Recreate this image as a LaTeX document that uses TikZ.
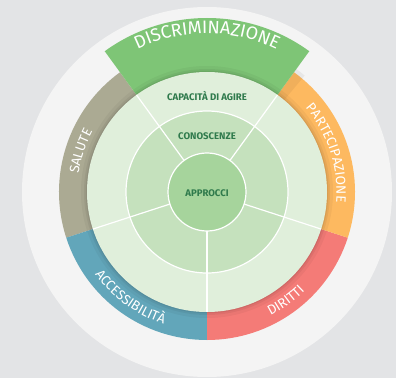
\documentclass[tikz,border=0pt]{standalone}
\usepackage{fontspec}
\setmainfont{Fira Sans}
\usetikzlibrary{decorations.text}
\definecolor{bgc}{HTML}{E3E4E6}
\definecolor{outerc}{HTML}{F4F4F4}
\definecolor{discc}{HTML}{7EC576}
\definecolor{salc}{HTML}{ABAA93}
\definecolor{accc}{HTML}{62A6BA}
\definecolor{dirc}{HTML}{F47B77}
\definecolor{partc}{HTML}{FDB960}
\definecolor{ringc}{HTML}{E0EFDB}
\definecolor{midc}{HTML}{C5E1BD}
\definecolor{corec}{HTML}{A6D49C}
\definecolor{txtc}{HTML}{2F7A4C}
\tikzset{
  inlabel/.style={text=txtc, font=\bfseries\fontsize{9.6}{10}\selectfont, inner sep=0pt},
  divider/.style={white, line width=1.2pt},
}
\newcommand{\bandfont}{\color{white}\fontsize{13.5}{14}\selectfont}
\begin{document}
\begin{tikzpicture}[x=1pt,y=1pt]
\useasboundingbox (0,0) rectangle (396,378);
\fill[bgc] (0,0) rectangle (396,378);
\coordinate (O) at (207,186);
\fill[outerc] (O) circle[radius=185];
% outer band segments
\fill[salc] (O) -- ([shift={(126:148)}]O) arc[start angle=126,end angle=198,radius=148] -- cycle;
\fill[accc] (O) -- ([shift={(198:148)}]O) arc[start angle=198,end angle=270,radius=148] -- cycle;
\fill[dirc] (O) -- ([shift={(270:148)}]O) arc[start angle=270,end angle=342,radius=148] -- cycle;
\fill[partc] (O) -- ([shift={(-18:148)}]O) arc[start angle=-18,end angle=54,radius=148] -- cycle;
\fill[black,opacity=0.05] (O) -- ([shift={(54:120)}]O) -- ([shift={(54:152)}]O) arc[start angle=54,end angle=50,radius=152] -- cycle;
\fill[discc] (O) -- ([shift={(54:174)}]O) arc[start angle=54,end angle=126,radius=174] -- cycle;
% shadow under inner disk
\fill[black,opacity=0.04] (O) circle[radius=126];
\fill[black,opacity=0.05] (O) circle[radius=123];
\fill[black,opacity=0.06] (O) circle[radius=121.2];
% inner disk
\fill[ringc] (O) circle[radius=120];
\fill[midc, draw=white, line width=1.2pt] (O) circle[radius=81];
\foreach \a in {54,126,198,270,342}
  \draw[divider] ([shift={(\a:39)}]O) -- ([shift={(\a:120)}]O);
\fill[corec, draw=white, line width=1.2pt] (O) circle[radius=39];
% inner labels
\node[inlabel] (cap) at (207,282) {CAPACITÀ DI AGIRE};
\node[inlabel] (con) at (207,242) {CONOSCENZE};
\node[inlabel] (app) at (207,185) {APPROCCI};
% band labels
\path[decorate, decoration={text along path, text align=center,
  text={|\color{white}\fontsize{18}{18}\selectfont|DISCRIMINAZIONE}}]
  ([shift={(126:158.5)}]O) arc[start angle=126,end angle=54,radius=158.5];
\path[decorate, decoration={text along path, text align=center,
  text={|\bandfont|SALUTE}}]
  ([shift={(198:129.5)}]O) arc[start angle=198,end angle=126,radius=129.5];
\path[decorate, decoration={text along path, text align=center,
  text={|\bandfont|PARTECIPAZIONE}}]
  ([shift={(54:129.5)}]O) arc[start angle=54,end angle=-18,radius=129.5];
\path[decorate, decoration={text along path, text align=center,
  text={|\bandfont|ACCESSIBILITÀ}}]
  ([shift={(198:139)}]O) arc[start angle=198,end angle=270,radius=139];
\path[decorate, decoration={text along path, text align=center,
  text={|\bandfont|DIRITTI}}]
  ([shift={(270:139)}]O) arc[start angle=270,end angle=342,radius=139];
\end{tikzpicture}
\end{document}
